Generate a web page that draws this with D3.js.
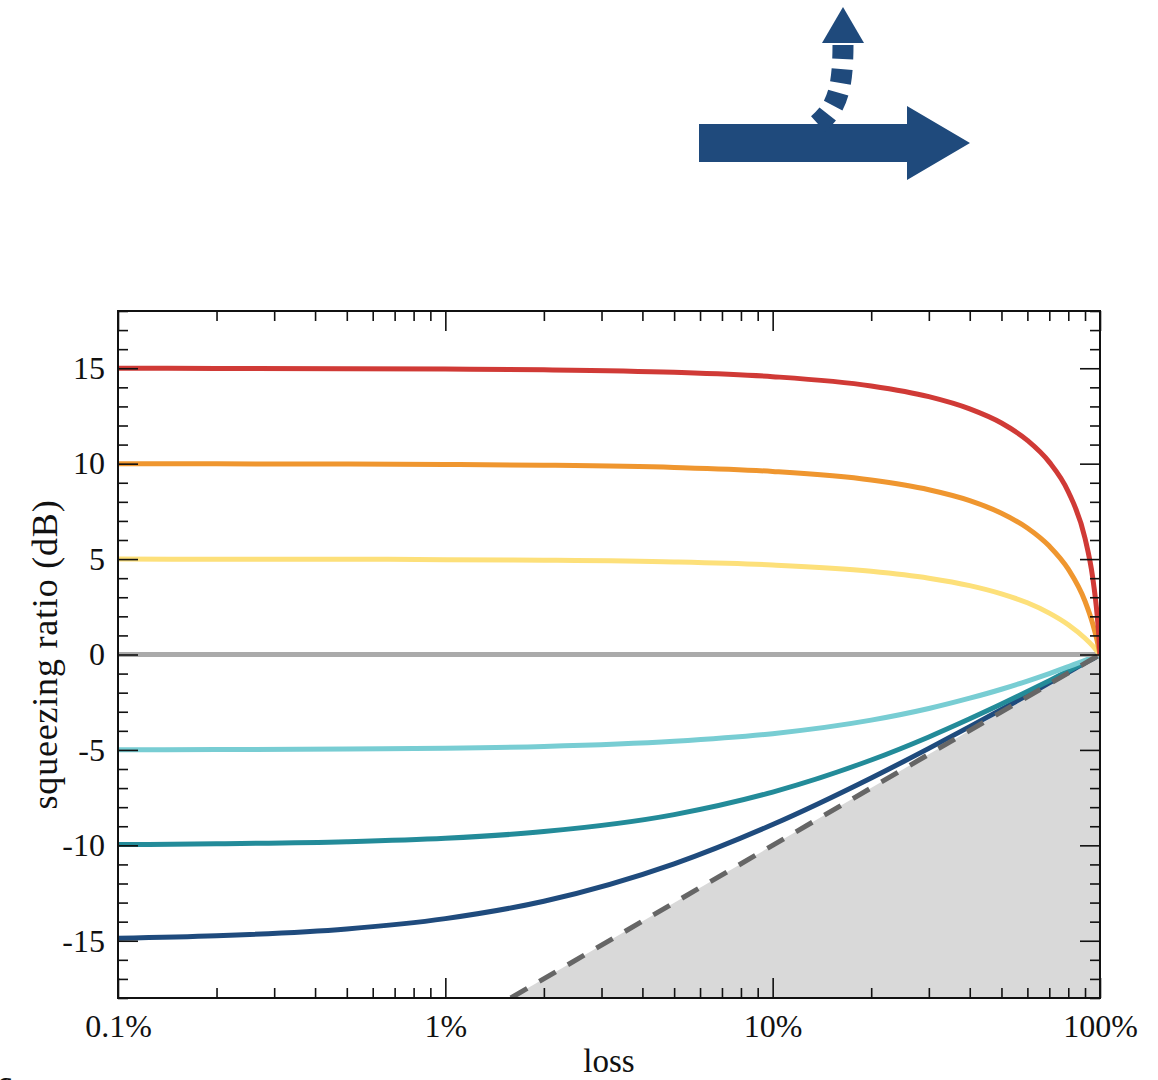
<!DOCTYPE html>
<html>
<head>
<meta charset="utf-8">
<script src="https://cdn.jsdelivr.net/npm/d3@7"></script>
<style>
  html, body { margin: 0; padding: 0; background: #fff; }
  svg { display: block; }
  text { font-family: "Liberation Serif", "DejaVu Serif", serif; fill: #111; }
</style>
</head>
<body>
<svg id="chart" width="1158" height="1080"></svg>
<script>
// Loss values (percent) at which the curves are sampled
const lossPct = [0.1, 0.2, 0.5, 1, 2, 5, 10, 20, 30, 40, 50, 60, 70, 80, 90, 95, 98, 99, 100];

// Squeezing ratio (dB) after loss, one series per initial squeezing level
const ratio15  = [15.00, 14.99, 14.98, 14.96, 14.92, 14.79, 14.56, 14.07, 13.51, 12.87, 12.13, 11.22, 10.08, 8.53, 6.09, 4.03, 2.08, 1.16, 0];
const ratio10  = [10.00, 9.99, 9.98, 9.96, 9.92, 9.80, 9.59, 9.14, 8.63, 8.06, 7.40, 6.63, 5.68, 4.47, 2.79, 1.61, 0.72, 0.37, 0];
const ratio5   = [5.00, 4.99, 4.99, 4.97, 4.94, 4.85, 4.69, 4.36, 4.00, 3.61, 3.18, 2.71, 2.17, 1.56, 0.85, 0.45, 0.18, 0.09, 0];
const ratio0   = [0, 0, 0, 0, 0, 0, 0, 0, 0, 0, 0, 0, 0, 0, 0, 0, 0, 0, 0];
const ratioM5  = [-4.99, -4.98, -4.95, -4.91, -4.82, -4.55, -4.15, -3.44, -2.83, -2.29, -1.82, -1.39, -1.00, -0.64, -0.31, -0.15, -0.06, -0.03, 0];
const ratioM10 = [-9.96, -9.92, -9.81, -9.63, -9.28, -8.39, -7.21, -5.53, -4.32, -3.37, -2.60, -1.94, -1.37, -0.86, -0.41, -0.20, -0.08, -0.04, 0];
const ratioM15 = [-14.87, -14.74, -14.38, -13.84, -12.93, -10.97, -8.91, -6.47, -4.92, -3.78, -2.88, -2.13, -1.49, -0.94, -0.44, -0.22, -0.09, -0.04, 0];

const seriesValues = [ratioM15, ratioM10, ratioM5, ratio0, ratio5, ratio10, ratio15];
const seriesColors = ["#1f4b7d", "#238b99", "#78cdd3", "#aaaaaa", "#fde07a", "#ef962f", "#d03a36"];

// Bound for pure loss (vacuum limit): straight line in log-loss
const boundLossPct = [1.585, 100];
const boundDb = [-18, 0];

// Axis ticks
const xMajorTicks = [0.1, 1, 10, 100];
const xMajorLabels = ["0.1%", "1%", "10%", "100%"];
const xMinorTicks = [0.2,0.3,0.4,0.5,0.6,0.7,0.8,0.9, 2,3,4,5,6,7,8,9, 20,30,40,50,60,70,80,90];
const yMajorTicks = [-15, -10, -5, 0, 5, 10, 15];
const yMinorTicks = d3.range(-18, 19).filter(v => v % 5 !== 0);

const svg = d3.select("#chart");
const L = 118, R = 1100, T = 311, B = 998;

const x = d3.scaleLog().domain([0.1, 100]).range([L, R]);
const y = d3.scaleLinear().domain([-18, 18]).range([B, T]);

const plot = svg.append("g");
plot.append("clipPath").attr("id", "clip")
  .append("rect").attr("x", L).attr("y", T).attr("width", R - L).attr("height", B - T);

const inner = plot.append("g").attr("clip-path", "url(#clip)");

// shaded region below the bound
const fillPts = boundLossPct.map((l, i) => [x(l), y(boundDb[i])]);
fillPts.push([x(100), y(-18)]);
inner.append("path")
  .attr("d", d3.line()(fillPts) + "Z")
  .attr("fill", "#d9d9d9");

// curves
const line = d3.line()
  .x(d => x(d[0]))
  .y(d => y(d[1]))
  .curve(d3.curveMonotoneX);

seriesValues.forEach((vals, i) => {
  inner.append("path")
    .datum(lossPct.map((l, j) => [l, vals[j]]))
    .attr("d", line)
    .attr("fill", "none")
    .attr("stroke", seriesColors[i])
    .attr("stroke-width", 5)
    .attr("stroke-linejoin", "round");
});

// dashed bound line
inner.append("path")
  .datum(boundLossPct.map((l, i) => [l, boundDb[i]]))
  .attr("d", d3.line().x(d => x(d[0])).y(d => y(d[1])))
  .attr("fill", "none")
  .attr("stroke", "#666")
  .attr("stroke-width", 5)
  .attr("stroke-dasharray", "19 14");

// axes with inward ticks on all four sides
function styleAxis(g) {
  g.select(".domain").remove();
  g.selectAll(".tick line").attr("stroke", "#111").attr("stroke-width", 1.6);
}
const labelFont = 32;

svg.append("g").attr("transform", `translate(0,${B})`)
  .call(d3.axisBottom(x).tickValues(xMajorTicks).tickSize(-20).tickPadding(13)
        .tickFormat((d, i) => xMajorLabels[i]))
  .call(styleAxis)
  .selectAll("text").attr("font-size", labelFont).attr("dy", "0.8em")
  .style("font-family", "'Liberation Serif', serif").attr("fill", "#111");
svg.append("g").attr("transform", `translate(0,${B})`)
  .call(d3.axisBottom(x).tickValues(xMinorTicks).tickSize(-10).tickFormat(""))
  .call(styleAxis);
svg.append("g").attr("transform", `translate(0,${T})`)
  .call(d3.axisTop(x).tickValues(xMajorTicks).tickSize(-20).tickFormat(""))
  .call(styleAxis);
svg.append("g").attr("transform", `translate(0,${T})`)
  .call(d3.axisTop(x).tickValues(xMinorTicks).tickSize(-10).tickFormat(""))
  .call(styleAxis);

svg.append("g").attr("transform", `translate(${L},0)`)
  .call(d3.axisLeft(y).tickValues(yMajorTicks).tickSize(-20).tickPadding(13)
        .tickFormat(d => String(d)))
  .call(styleAxis)
  .selectAll("text").attr("font-size", labelFont)
  .style("font-family", "'Liberation Serif', serif").attr("fill", "#111");
svg.append("g").attr("transform", `translate(${L},0)`)
  .call(d3.axisLeft(y).tickValues(yMinorTicks).tickSize(-10).tickFormat(""))
  .call(styleAxis);
svg.append("g").attr("transform", `translate(${R},0)`)
  .call(d3.axisRight(y).tickValues(yMajorTicks).tickSize(-20).tickFormat(""))
  .call(styleAxis);
svg.append("g").attr("transform", `translate(${R},0)`)
  .call(d3.axisRight(y).tickValues(yMinorTicks).tickSize(-10).tickFormat(""))
  .call(styleAxis);

// frame
svg.append("rect")
  .attr("x", L).attr("y", T).attr("width", R - L).attr("height", B - T)
  .attr("fill", "none").attr("stroke", "#111").attr("stroke-width", 2);

// axis titles
svg.append("text")
  .attr("x", (L + R) / 2).attr("y", 1072)
  .attr("text-anchor", "middle")
  .attr("font-size", 33)
  .text("loss");

svg.append("text")
  .attr("transform", `translate(57,${(T + B) / 2}) rotate(-90)`)
  .attr("text-anchor", "middle")
  .attr("font-size", 36)
  .attr("letter-spacing", 0.8)
  .text("squeezing ratio (dB)");

// beam diagram: transmitted beam and the part lost
const arrowColor = "#1f4a7c";
svg.append("path")
  .attr("d", "M699,124 L907,124 L907,106 L970,143 L907,180 L907,162 L699,162 Z")
  .attr("fill", arrowColor);
svg.append("path")
  .attr("d", "M818,124 C836,108 843,92 843,44")
  .attr("fill", "none")
  .attr("stroke", arrowColor)
  .attr("stroke-width", 21)
  .attr("stroke-dasharray", "14 10");
svg.append("path")
  .attr("d", "M822,43 L864,43 L843,7 Z")
  .attr("fill", arrowColor);

// panel letter at the lower-left corner
svg.append("text")
  .attr("x", -3).attr("y", 1094)
  .attr("font-size", 34)
  .attr("font-weight", "bold")
  .text("c");
</script>
</body>
</html>
